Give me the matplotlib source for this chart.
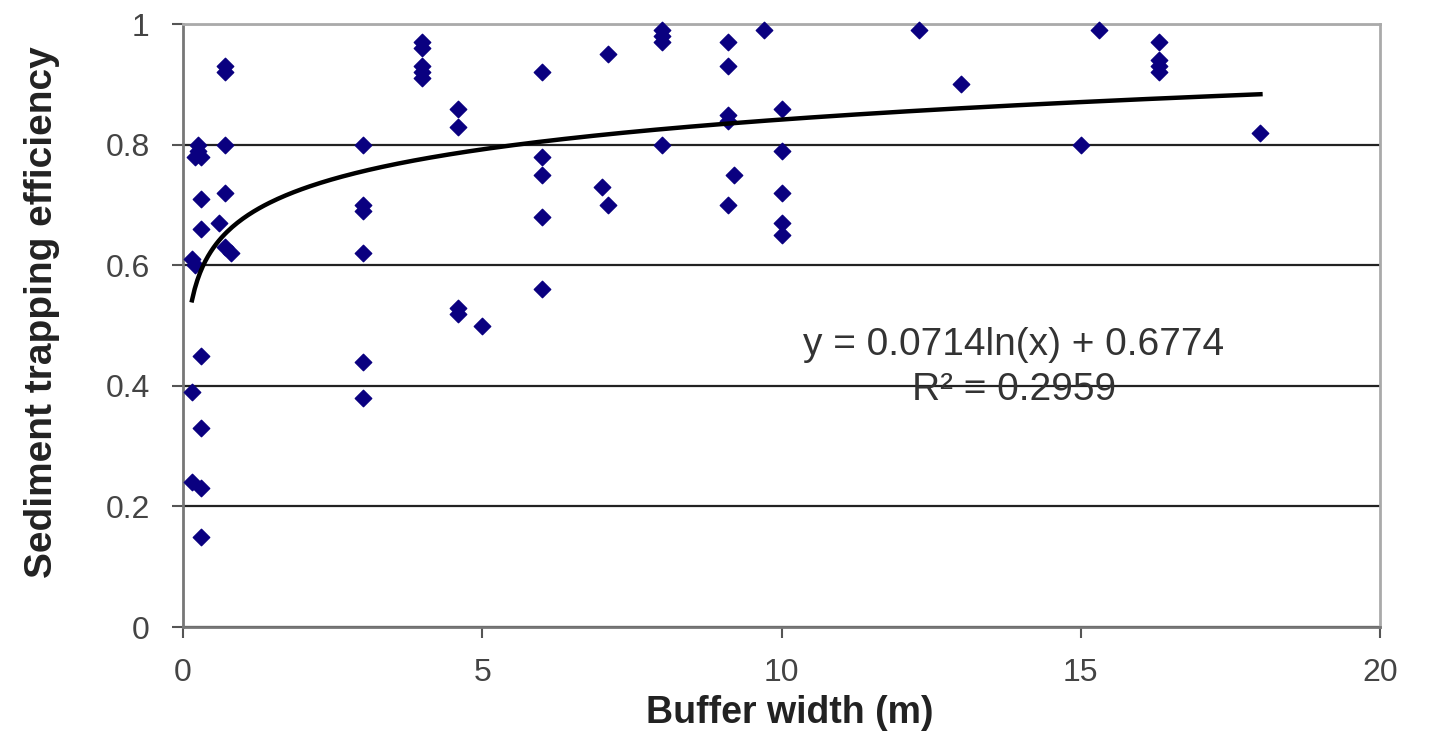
import matplotlib
matplotlib.use("Agg")
import matplotlib.pyplot as plt
import numpy as np

# buffer width (m) and sediment trapping efficiency
width = [0.15, 0.15, 0.15,
         0.2, 0.2,
         0.25, 0.25,
         0.3, 0.3, 0.3, 0.3, 0.3, 0.3, 0.3,
         0.6,
         0.7, 0.7, 0.7, 0.7, 0.7,
         0.8,
         3, 3, 3, 3, 3, 3,
         4, 4, 4, 4, 4,
         4.6, 4.6, 4.6, 4.6,
         5,
         6, 6, 6, 6, 6,
         7,
         7.1, 7.1,
         8, 8, 8, 8,
         9.1, 9.1, 9.1, 9.1, 9.1,
         9.2,
         9.7,
         10, 10, 10, 10, 10,
         12.3, 13, 15, 15.3,
         16.3, 16.3, 16.3, 16.3,
         18]
efficiency = [0.61, 0.39, 0.24,
              0.78, 0.60,
              0.80, 0.79,
              0.78, 0.71, 0.66, 0.45, 0.33, 0.23, 0.15,
              0.67,
              0.93, 0.92, 0.80, 0.72, 0.63,
              0.62,
              0.80, 0.70, 0.69, 0.62, 0.44, 0.38,
              0.97, 0.96, 0.93, 0.92, 0.91,
              0.86, 0.83, 0.53, 0.52,
              0.50,
              0.92, 0.78, 0.75, 0.68, 0.56,
              0.73,
              0.95, 0.70,
              0.99, 0.98, 0.97, 0.80,
              0.97, 0.93, 0.85, 0.84, 0.70,
              0.75,
              0.99,
              0.86, 0.79, 0.72, 0.67, 0.65,
              0.99, 0.90, 0.80, 0.99,
              0.97, 0.94, 0.93, 0.92,
              0.82]

# log trendline from the equation shown on the chart
slope = 0.0714
intercept = 0.6774
r2 = 0.2959

x_ticks = [0, 5, 10, 15, 20]
y_ticks = [0, 0.2, 0.4, 0.6, 0.8, 1]
y_tick_labels = ["0", "0.2", "0.4", "0.6", "0.8", "1"]

plt.rcParams["font.family"] = ["Liberation Sans", "DejaVu Sans"]

fig = plt.figure(figsize=(14.32, 7.55), dpi=100)
ax = fig.add_axes([0.1278, 0.1695, 0.836, 0.7985])

ax.set_xlim(0, 20)
ax.set_ylim(0, 1)
ax.set_yticks(y_ticks)
ax.set_yticklabels(y_tick_labels)
ax.set_xticks(x_ticks)
ax.yaxis.grid(True, color="#222222", linewidth=1.6)
ax.set_axisbelow(True)

for side in ["top", "right"]:
    ax.spines[side].set_color("#aaaaaa")
    ax.spines[side].set_linewidth(2)
for side in ["left", "bottom"]:
    ax.spines[side].set_color("#777777")
    ax.spines[side].set_linewidth(2)

ax.tick_params(axis="both", direction="out", length=8, width=1.5,
               color="#555555", labelsize=23, labelcolor="#444444")
ax.tick_params(axis="y", pad=16)
ax.tick_params(axis="x", pad=14)

ax.scatter(width, efficiency, marker="D", s=70, color="#0a0080",
           edgecolors="#0a0080", zorder=3, clip_on=False)

xs = np.linspace(min(width), max(width), 400)
ax.plot(xs, slope * np.log(xs) + intercept, color="black", linewidth=3.2,
        zorder=4)

ax.text(13.88, 0.468, "y = %.4fln(x) + %.4f" % (slope, intercept),
        ha="center", va="center", fontsize=28, color="#333333")
ax.text(13.88, 0.393, "R\u00b2 = %.4f" % r2, ha="center", va="center",
        fontsize=28, color="#333333")

ax.set_xlabel("Buffer width (m)", fontsize=27, fontweight="bold",
              color="#222222")
ax.xaxis.set_label_coords(0.507, -0.113)
ax.set_ylabel("Sediment trapping efficiency", fontsize=28,
              fontweight="bold", color="#222222")
ax.yaxis.set_label_coords(-0.103, 0.522)

fig.savefig("out.png", dpi=100, facecolor="white")
